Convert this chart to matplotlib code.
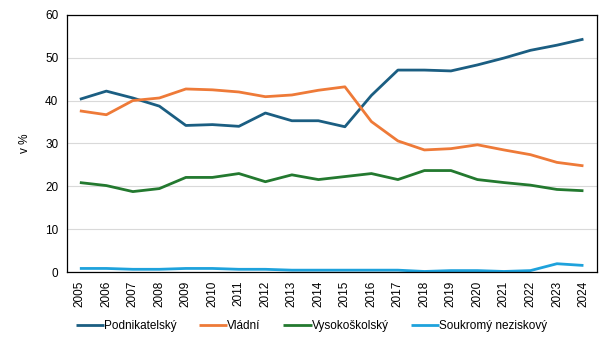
import matplotlib.pyplot as plt

plt.rcParams['font.family'] = ['Liberation Sans', 'DejaVu Sans']

years = [str(y) for y in range(2005, 2025)]
podnikatelsky = [40.3, 42.2, 40.6, 38.7, 34.2, 34.4, 34.0, 37.1, 35.3, 35.3,
                 33.9, 41.2, 47.1, 47.1, 46.9, 48.3, 49.9, 51.7, 52.9, 54.3]
vladni = [37.6, 36.7, 40.0, 40.6, 42.7, 42.5, 42.0, 40.9, 41.3, 42.4,
          43.2, 35.1, 30.6, 28.5, 28.8, 29.7, 28.5, 27.4, 25.6, 24.8]
vysokoskolsky = [20.9, 20.2, 18.8, 19.5, 22.1, 22.1, 23.0, 21.1, 22.7, 21.6,
                 22.3, 23.0, 21.6, 23.7, 23.7, 21.6, 20.9, 20.3, 19.3, 19.0]
soukromy = [0.9, 0.9, 0.7, 0.7, 0.9, 0.9, 0.7, 0.7, 0.5, 0.5,
            0.5, 0.5, 0.5, 0.2, 0.4, 0.4, 0.2, 0.4, 2.0, 1.6]

series = [
    ("Podnikatelský", podnikatelsky, "#1b5e82"),
    ("Vládní", vladni, "#ee7a38"),
    ("Vysokoškolský", vysokoskolsky, "#23792f"),
    ("Soukromý neziskový", soukromy, "#1ea2dc"),
]

fig = plt.figure(figsize=(6.11, 3.48), dpi=100)
ax = fig.add_axes([0.109, 0.2175, 0.8676, 0.7403])

x = range(len(years))
for name, vals, col in series:
    ax.plot(x, vals, color=col, lw=2.0, label=name, solid_capstyle='butt')

ax.set_xlim(-0.5, len(years) - 0.5)
ax.set_ylim(0, 60)
ax.set_yticks(range(0, 61, 10))
ax.set_xticks(list(x))
ax.set_xticklabels(years, rotation=90)
ax.tick_params(length=0, labelsize=8.5, pad=6)
ax.grid(axis='y', color='#d9d9d9', lw=0.8)
ax.set_axisbelow(True)
for s in ax.spines.values():
    s.set_linewidth(0.9)
    s.set_color('black')
ax.set_ylabel("v %", fontsize=8.5, labelpad=10)

fig.legend(loc='center', bbox_to_anchor=(0.51, 0.063), ncol=4, frameon=False,
           fontsize=8.5, handlelength=2.4, handletextpad=0.0, columnspacing=1.9)

fig.savefig("out.png", dpi=100)
